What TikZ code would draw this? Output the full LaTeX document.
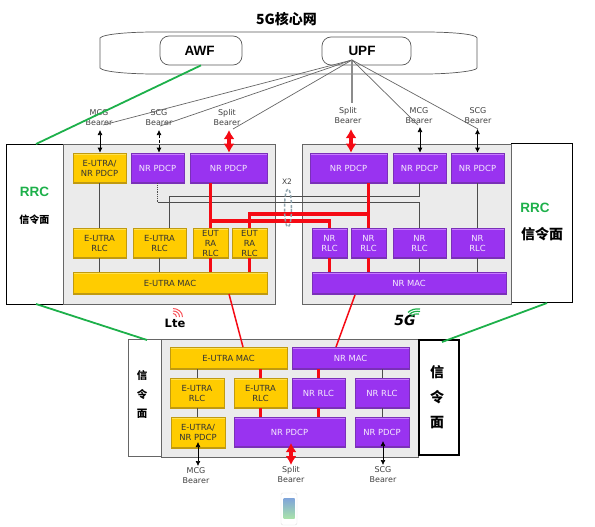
\documentclass[tikz,border=0pt]{standalone}
\usepackage{fontspec}
\setsansfont{DejaVu Sans}
\newfontfamily\labelfont{Liberation Sans}
\newfontfamily\cjk{Noto Sans CJK SC}
\usetikzlibrary{arrows.meta,positioning,calc,shapes.geometric}
\usepackage{xcolor}
\definecolor{eutra}{HTML}{FFCC00}
\definecolor{eutraedge}{HTML}{C09A10}
\definecolor{eutralight}{HTML}{FFE14D}
\definecolor{nr}{HTML}{9933F0}
\definecolor{nredge}{HTML}{7A30B8}
\definecolor{nrlight}{HTML}{C77BFF}
\definecolor{signal}{HTML}{1DB04A}
\definecolor{redline}{HTML}{F50A14}
\definecolor{ring}{HTML}{8FA3AD}
\tikzset{
  unit/.style={font=\sffamily\fontsize{8.4}{10}\selectfont,align=center,inner sep=0pt,line width=0.6pt},
  eutrabox/.style={unit,text=black!80,fill=eutra,draw=eutraedge,path picture={
    \fill[eutralight] (path picture bounding box.north west) rectangle ([yshift=-1.5pt]path picture bounding box.north east);
    \fill[eutraedge] (path picture bounding box.south west) rectangle ([yshift=1.5pt]path picture bounding box.south east);}},
  nrbox/.style={unit,text=white!90!nr,fill=nr,draw=nredge,path picture={
    \fill[nrlight] (path picture bounding box.north west) rectangle ([yshift=-1.5pt]path picture bounding box.north east);
    \fill[nredge] (path picture bounding box.south west) rectangle ([yshift=1.5pt]path picture bounding box.south east);}},
  panel/.style={draw=black!60,line width=1pt,top color=black!8,middle color=black!24,bottom color=black!8,inner sep=0pt},
  plane/.style={draw=black,fill=white,line width=0.6pt,inner sep=0pt},
  func/.style={draw=black!65,line width=0.7pt,rounded corners=9pt,inner sep=0pt,font=\labelfont\bfseries\fontsize{13.5}{14}\selectfont},
  bearer/.style={font=\sffamily\fontsize{8}{10}\selectfont,text=black!75,align=center,inner sep=0pt},
  rrc/.style={font=\labelfont\bfseries\fontsize{13.5}{14}\selectfont,text=signal,inner sep=0pt},
  plainlink/.style={draw=black!70,line width=0.8pt},
  redlink/.style={draw=redline,line width=3.2pt},
  thinred/.style={draw=redline,line width=1.5pt},
  uplink/.style={draw=black!60,line width=0.7pt},
  bearerarrow/.style={{Latex[length=5pt,width=5pt]}-{Latex[length=5pt,width=5pt]},draw=black,line width=0.7pt},
  splitarrow/.style={{Latex[length=9pt,width=11pt]}-{Latex[length=9pt,width=11pt]},draw=redline,line width=3.5pt},
  signalline/.style={draw=signal,line width=1.8pt}
}
\begin{document}
\begin{tikzpicture}[x=1pt,y=-1pt]
\useasboundingbox (0,0) rectangle (595,527);
\node[font=\cjk\bfseries\fontsize{14}{15}\selectfont,inner sep=0pt] (title) at (286.5,19) {5G核心网};

% core network
\draw[draw=black!65,line width=0.7pt] (100,38) .. controls (103,34) and (130,32) .. (155,32) -- (425,32) .. controls (450,32) and (477,34) .. (477,38)
  -- (477,68) .. controls (477,71) and (450,74) .. (425,74) -- (155,74) .. controls (130,74) and (103,72) .. (100,68) -- cycle;
\node[func,minimum width=82pt,minimum height=29pt] (awf) at (201,50.5) {AWF\kern3pt};
\node[func,minimum width=89pt,minimum height=28pt] (upf) at (366.5,51) {UPF\kern9pt};
\coordinate (upfhub) at (352,60);

% LTE side
\node[plane,minimum width=57pt,minimum height=160pt] (rrcL) at (34.5,224) {};
\node[rrc] (rrcLtext) at (34.5,192) {RRC};
\node[font=\cjk\bfseries\fontsize{10}{12}\selectfont,inner sep=0pt] (sigL) at (34.5,220) {信令面};
\node[panel,minimum width=212pt,minimum height=160pt] (lte) at (169,224) {};
\node[eutrabox,minimum width=53pt,minimum height=30pt] (ltePdcpA) at (99.5,168) {E-UTRA/\\NR PDCP};
\node[nrbox,minimum width=53pt,minimum height=30pt] (ltePdcpB) at (157.5,168) {NR PDCP};
\node[nrbox,minimum width=77pt,minimum height=30pt] (ltePdcpC) at (228.5,168) {NR PDCP};
\node[eutrabox,minimum width=53pt,minimum height=30pt] (lteRlcA) at (99.5,243) {E-UTRA\\RLC};
\node[eutrabox,minimum width=53pt,minimum height=30pt] (lteRlcB) at (159.5,243) {E-UTRA\\RLC};
\node[eutrabox,minimum width=35pt,minimum height=30pt] (lteRlcC) at (210.5,243) {EUT\\RA\\RLC};
\node[eutrabox,minimum width=35pt,minimum height=30pt] (lteRlcD) at (249.5,243) {EUT\\RA\\RLC};
\node[eutrabox,minimum width=194pt,minimum height=22pt] (lteMac) at (170,283) {E-UTRA MAC};

% NR side
\node[plane,minimum width=61pt,minimum height=159pt] (rrcR) at (541.5,222.5) {};
\node[rrc] (rrcRtext) at (535,208) {RRC};
\node[font=\cjk\bfseries\fontsize{14}{16}\selectfont,inner sep=0pt] (sigR) at (542,234) {信令面};
\node[panel,minimum width=209pt,minimum height=160pt] (nrp) at (406.5,224) {};
\node[nrbox,minimum width=77pt,minimum height=30pt] (nrPdcpA) at (348.5,168) {NR PDCP};
\node[nrbox,minimum width=53pt,minimum height=30pt] (nrPdcpB) at (419.5,168) {NR PDCP};
\node[nrbox,minimum width=53pt,minimum height=30pt] (nrPdcpC) at (477.5,168) {NR PDCP};
\node[nrbox,minimum width=35pt,minimum height=30pt] (nrRlcA) at (329.5,243) {NR\\RLC};
\node[nrbox,minimum width=35pt,minimum height=30pt] (nrRlcB) at (368.5,243) {NR\\RLC};
\node[nrbox,minimum width=53pt,minimum height=30pt] (nrRlcC) at (419.5,243) {NR\\RLC};
\node[nrbox,minimum width=53pt,minimum height=30pt] (nrRlcD) at (477.5,243) {NR\\RLC};
\node[nrbox,minimum width=194pt,minimum height=22pt] (nrMac) at (409,283.5) {NR MAC};

% UE
\node[plane,draw=black!60,minimum width=33pt,minimum height=117pt] (ueL) at (144.5,397.5) {};
\node[font=\cjk\bfseries\fontsize{10.5}{19}\selectfont,align=center,inner sep=0pt] (sigUeL) at (142,394) {信\\令\\面};
\node[panel,minimum width=257pt,minimum height=118pt] (ue) at (289.5,398) {};
\node[plane,line width=2.5pt,minimum width=40pt,minimum height=115pt] (ueR) at (439,397.5) {};
\node[font=\cjk\bfseries\fontsize{14}{25}\selectfont,align=center,inner sep=0pt] (sigUeR) at (437,397) {信\\令\\面};
\node[eutrabox,minimum width=117pt,minimum height=22pt] (ueMacE) at (228.5,358) {E-UTRA MAC};
\node[nrbox,minimum width=117pt,minimum height=22pt] (ueMacN) at (350.5,358) {NR MAC};
\node[eutrabox,minimum width=54pt,minimum height=30pt] (ueRlcA) at (197,393) {E-UTRA\\RLC};
\node[eutrabox,minimum width=53pt,minimum height=30pt] (ueRlcB) at (260.5,393) {E-UTRA\\RLC};
\node[nrbox,minimum width=53pt,minimum height=30pt] (ueRlcC) at (318.5,393) {NR RLC};
\node[nrbox,minimum width=54pt,minimum height=30pt] (ueRlcD) at (382,393) {NR RLC};
\node[eutrabox,minimum width=54pt,minimum height=31pt] (uePdcpA) at (198,432.5) {E-UTRA/\\NR PDCP};
\node[nrbox,minimum width=111pt,minimum height=30pt] (uePdcpB) at (289.5,432) {NR PDCP};
\node[nrbox,minimum width=54pt,minimum height=30pt] (uePdcpC) at (382,432) {NR PDCP};

% bearer labels
\node[bearer] (mcgL) at (99,118) {MCG\\Bearer};
\node[bearer] (scgL) at (159,118) {SCG\\Bearer};
\node[bearer] (splitL) at (227,118) {Split\\Bearer};
\node[bearer] (splitR) at (348,116) {Split\\Bearer};
\node[bearer] (mcgR) at (419,116) {MCG\\Bearer};
\node[bearer] (scgR) at (478,116) {SCG\\Bearer};
\node[bearer] (mcgU) at (196,476) {MCG\\Bearer};
\node[bearer] (splitU) at (291,475) {Split\\Bearer};
\node[bearer] (scgU) at (383,475) {SCG\\Bearer};
\node[font=\sffamily\fontsize{7.5}{8}\selectfont,text=black!75,inner sep=0pt] (xtwo) at (287,182) {X2};

% logos
\node[font=\sffamily\bfseries\fontsize{11.5}{14}\selectfont,inner sep=0pt] (ltelogo) at (175,323) {Lte};
\node[font=\sffamily\bfseries\itshape\fontsize{14}{15}\selectfont,inner sep=0pt] (fivelogo) at (405,320) {5G};
\draw[draw=redline!70,line width=1pt] (173,313.5) .. controls (175,313.5) and (176.5,315) .. (176.5,317)
  (173,311) .. controls (177,311) and (179.5,313.5) .. (179.5,317)
  (173,308.5) .. controls (178,308.5) and (182.5,312) .. (182.5,317);
\draw[draw=signal,line width=1.2pt] (411,316.5) .. controls (413,314) and (416,313.5) .. (419,314)
  (409.5,314.5) .. controls (412,311.5) and (416,311) .. (420,311.5)
  (408,312.5) .. controls (411,309.5) and (415,308.5) .. (420,309);
\node[draw=black!12,fill=white,rounded corners=2pt,minimum width=16pt,minimum height=32pt,inner sep=0pt] (phone) at (289,509) {};
\node[top color=teal!60!blue!50,bottom color=green!50!gray!45,minimum width=11pt,minimum height=20pt,inner sep=0pt] (screen) at (289,508.5) {};

% upf to bearers
\coordinate (mcgLend) at (103,125);
\coordinate (scgLend) at (160,126);
\coordinate (splitLend) at (233,129);
\coordinate (splitRend) at (352,103);
\coordinate (mcgRend) at (418,125);
\coordinate (scgRend) at (478,129);
\draw[uplink] (upfhub) -- (mcgLend);
\draw[uplink] (upfhub) -- (scgLend);
\draw[uplink] (upfhub) -- (splitLend);
\draw[uplink,draw=black!45,line width=1.2pt] (upfhub) -- (splitRend);
\draw[uplink] (upfhub) -- (mcgRend);
\draw[uplink] (upfhub) -- (scgRend);

% bearer arrows
\coordinate (mcgLtip) at (100,130);
\coordinate (scgLtip) at (159,130);
\coordinate (splitLtip) at (229,130);
\coordinate (splitRtip) at (351,129);
\coordinate (mcgRtip) at (420,127);
\coordinate (scgRtip) at (477.5,129);
\draw[bearerarrow] (mcgLtip) -- (mcgLtip |- ltePdcpA.north);
\draw[bearerarrow,densely dashed] (scgLtip) -- (scgLtip |- ltePdcpB.north);
\draw[splitarrow] (splitLtip) -- (splitLtip |- ltePdcpC.north);
\draw[splitarrow] (splitRtip) -- (splitRtip |- nrPdcpA.north);
\draw[bearerarrow] (mcgRtip) -- (mcgRtip |- nrPdcpB.north);
\draw[bearerarrow] (scgRtip) -- (scgRtip |- nrPdcpC.north);
\coordinate (mcgUtip) at (198,466);
\coordinate (splitUtip) at (291,465);
\coordinate (scgUtip) at (383,465);
\coordinate (mcgUtop) at (198,442);
\coordinate (splitUtop) at (291,443);
\coordinate (scgUtop) at (383,441);
\draw[bearerarrow] (mcgUtip) -- (mcgUtop);
\draw[splitarrow] (splitUtip) -- (splitUtop);
\draw[bearerarrow] (scgUtip) -- (scgUtop);

% lte links
\draw[plainlink] (ltePdcpA.south) -- (lteRlcA.north);
\draw[plainlink] (lteRlcA.south) -- (lteRlcA.south |- lteMac.north);
\draw[plainlink] (lteRlcB.south) -- (lteRlcB.south |- lteMac.north);
\coordinate (xnA) at (157.5,202);
\coordinate (xnB) at (169,196);
\coordinate (branchA) at (210.5,221);
\coordinate (branchB) at (368.5,214);
\draw[plainlink,densely dotted] (ltePdcpB.south) -- (xnA);
\draw[plainlink] (xnA) -| (nrRlcC.north);
\draw[plainlink] (lteRlcB.north -| xnB) -- (xnB) -| (nrPdcpB.south);
\draw[redlink] (ltePdcpC.south -| lteRlcC.north) -- (lteRlcC.north);
\draw[redlink] (branchA) -| (nrRlcA.north);
\draw[redlink] (lteRlcD.north) |- (branchB);
\draw[redlink] (nrPdcpA.south -| nrRlcB.north) -- (nrRlcB.north);
\draw[redlink] (lteRlcC.south) -- (lteRlcC.south |- lteMac.north);
\draw[redlink] (lteRlcD.south) -- (lteRlcD.south |- lteMac.north);

% nr links
\draw[plainlink] (nrPdcpC.south) -- (nrRlcD.north);
\draw[plainlink] (nrRlcC.south) -- (nrRlcC.south |- nrMac.north);
\draw[plainlink] (nrRlcD.south) -- (nrRlcD.south |- nrMac.north);
\draw[redlink] (nrRlcA.south) -- (nrRlcA.south |- nrMac.north);
\draw[redlink] (nrRlcB.south) -- (nrRlcB.south |- nrMac.north);

% x2
\node[draw=ring,densely dashed,line width=1.5pt,ellipse,minimum width=7pt,minimum height=38pt,inner sep=0pt] (xtworing) at (288,208) {};

% ue links
\draw[plainlink] (ueRlcA.north) -- (ueRlcA.north |- ueMacE.south);
\draw[plainlink] (ueRlcA.south) -- (ueRlcA.south |- uePdcpA.north);
\draw[plainlink] (ueRlcD.north) -- (ueRlcD.north |- ueMacN.south);
\draw[plainlink] (ueRlcD.south) -- (ueRlcD.south |- uePdcpC.north);
\draw[redlink] (ueRlcB.north) -- (ueRlcB.north |- ueMacE.south);
\draw[redlink] (ueRlcB.south) -- (ueRlcB.south |- uePdcpB.north);
\draw[redlink] (ueRlcC.north) -- (ueRlcC.north |- ueMacN.south);
\draw[redlink] (ueRlcC.south) -- (ueRlcC.south |- uePdcpB.north);

% mac to ue
\coordinate (macEtop) at (229,294);
\coordinate (macEbot) at (243,347);
\coordinate (macNtop) at (355,295);
\coordinate (macNbot) at (336,347);
\draw[thinred] (macEtop) -- (macEbot);
\draw[thinred] (macNtop) -- (macNbot);

% signalling
\coordinate (rrcLtop) at (36,144);
\coordinate (rrcLbot) at (36,304);
\coordinate (ueLtop) at (147,340);
\coordinate (rrcRbot) at (547,303);
\coordinate (ueRtop) at (442,342);
\draw[signalline] (awf.south) -- (rrcLtop);
\draw[signalline] (rrcLbot) -- (ueLtop);
\draw[signalline] (rrcRbot) -- (ueRtop);
\end{tikzpicture}
\end{document}
